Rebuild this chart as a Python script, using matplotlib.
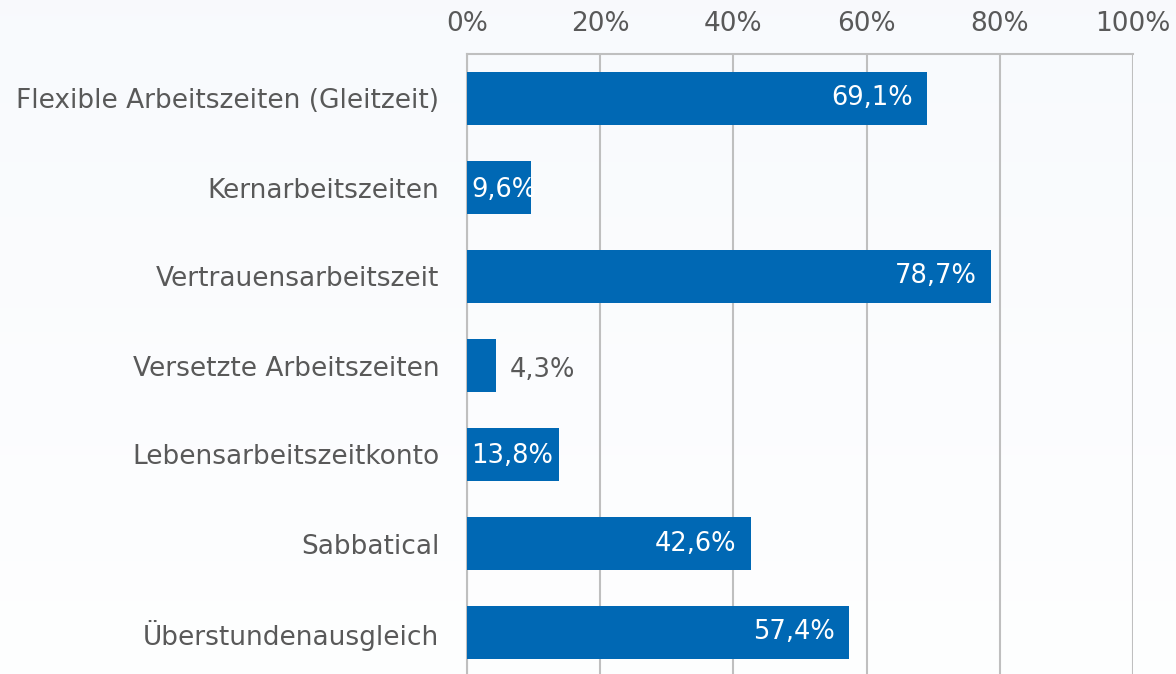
import matplotlib.pyplot as plt
import matplotlib.transforms as mtransforms
import numpy as np

categories = [
    "Flexible Arbeitszeiten (Gleitzeit)",
    "Kernarbeitszeiten",
    "Vertrauensarbeitszeit",
    "Versetzte Arbeitszeiten",
    "Lebensarbeitszeitkonto",
    "Sabbatical",
    "Überstundenausgleich",
]
values = [69.1, 9.6, 78.7, 4.3, 13.8, 42.6, 57.4]
ticks = [0, 20, 40, 60, 80, 100]

bar_color = "#0068b4"
text_gray = "#595959"
grid_gray = "#bfbfbf"

plt.rcParams["font.family"] = ["DejaVu Sans"]

fig = plt.figure(figsize=(11.76, 6.74), dpi=100)

# soft background gradient (light blue-grey top, white bottom)
bg = fig.add_axes([0, 0, 1, 1], zorder=-1)
grad = np.linspace(0, 1, 256).reshape(-1, 1)
top = np.array([0.973, 0.980, 0.992])
bot = np.array([0.996, 0.998, 1.0])
img = top + (bot - top) * grad[..., None]
bg.imshow(img, aspect="auto", extent=[0, 1, 0, 1])
bg.axis("off")

ax = fig.add_axes([467 / 1176, -3 / 674, 666 / 1176, 623 / 674])
ax.set_facecolor("none")

y = np.arange(len(categories))
ax.barh(y, values, height=0.6, color=bar_color, zorder=3)
ax.set_ylim(len(categories) - 0.5, -0.5)
ax.set_xlim(0, 100)

ax.set_yticks(y)
ax.set_yticklabels(categories, fontsize=19, color=text_gray)
ax.set_xticks(ticks)
ax.set_xticklabels([f"{t}%" for t in ticks], fontsize=19, color=text_gray)
ax.xaxis.tick_top()
ax.tick_params(axis="both", length=0)
ax.tick_params(axis="x", pad=12)
ax.tick_params(axis="y", pad=20)

ax.grid(axis="x", color=grid_gray, linewidth=1.5, zorder=0)
for side in ["right", "bottom"]:
    ax.spines[side].set_visible(False)
for side in ["top", "left"]:
    ax.spines[side].set_color(grid_gray)
    ax.spines[side].set_linewidth(1.5)

lab_size = 18.5
for yi, v in zip(y, values):
    label = f"{v:.1f}%".replace(".", ",")
    if v < 5:
        off = mtransforms.offset_copy(ax.transData, fig=fig, x=14, y=-4, units="dots")
        ax.text(v, yi, label, transform=off, ha="left", va="center",
                fontsize=lab_size, color=text_gray, zorder=4)
    elif v < 15:
        off = mtransforms.offset_copy(ax.transData, fig=fig, x=4, y=-2, units="dots")
        ax.text(0, yi, label, transform=off, ha="left", va="center",
                fontsize=lab_size, color="white", zorder=4)
    else:
        off = mtransforms.offset_copy(ax.transData, fig=fig, x=-14, y=0, units="dots")
        ax.text(v, yi, label, transform=off, ha="right", va="center",
                fontsize=lab_size, color="white", zorder=4)

fig.savefig("out.png", dpi=100)
